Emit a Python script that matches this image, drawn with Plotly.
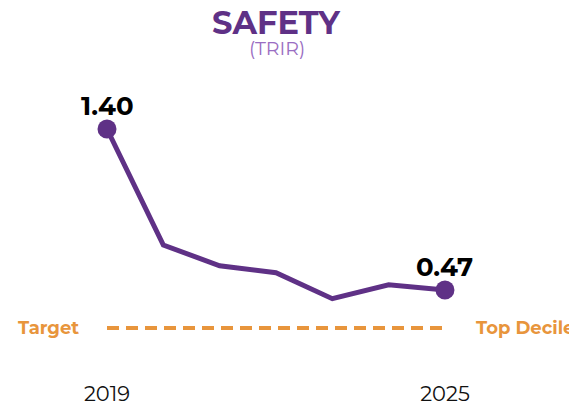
import plotly.graph_objects as go

years = [2019, 2020, 2021, 2022, 2023, 2024, 2025]
trir = [1.40, 0.73, 0.61, 0.57, 0.42, 0.50, 0.47]
target_value = 0.25
tick_years = [2019, 2025]
tick_labels = ["2019", "2025"]
title_text = "SAFETY"
subtitle_text = "(TRIR)"
left_label = "Target"
right_label = "Top Decile"

PURPLE = "#5F3186"
LIGHT_PURPLE = "#9A6DC2"
ORANGE = "#E8953C"
FONT = "Montserrat, Lato, 'Open Sans', sans-serif"

fig = go.Figure()

# Target dashed line
fig.add_trace(go.Scatter(
    x=[years[0], years[-1]], y=[target_value, target_value],
    mode="lines", line=dict(color=ORANGE, width=4, dash="12px,7px"),
    hoverinfo="skip", showlegend=False))

# Main line
fig.add_trace(go.Scatter(
    x=years, y=trir, mode="lines",
    line=dict(color=PURPLE, width=5),
    showlegend=False))

# End markers
fig.add_trace(go.Scatter(
    x=[years[0], years[-1]], y=[trir[0], trir[-1]], mode="markers",
    marker=dict(color=PURPLE, size=19),
    showlegend=False))

# Value labels at endpoints
for xi, yi in ((years[0], trir[0]), (years[-1], trir[-1])):
    fig.add_annotation(x=xi, y=yi, xref="x", yref="y",
                       text=f"<b>{yi:.2f}</b>", showarrow=False,
                       yanchor="bottom", yshift=5,
                       font=dict(family=FONT, size=26, color="#000000"))

fig.add_annotation(x=years[0], y=target_value, xref="x", yref="y",
                   text=f"<b>{left_label}</b>", showarrow=False,
                   xanchor="center", xshift=-59,
                   font=dict(family=FONT, size=18, color=ORANGE))
fig.add_annotation(x=years[-1], y=target_value, xref="x", yref="y",
                   text=f"<b>{right_label}</b>", showarrow=False,
                   xanchor="left", xshift=29,
                   font=dict(family=FONT, size=18, color=ORANGE))

fig.add_annotation(x=0.466, y=1, xref="paper", yref="paper", yanchor="top",
                   yshift=7,
                   text=f"<b>{title_text}</b>", showarrow=False,
                   font=dict(family=FONT, size=32, color=PURPLE))
fig.add_annotation(x=0.466, y=1, xref="paper", yref="paper", yanchor="top",
                   yshift=-27,
                   text=subtitle_text, showarrow=False,
                   font=dict(family=FONT, size=19, color=LIGHT_PURPLE))

fig.update_layout(
    width=577, height=411,
    margin=dict(l=0, r=0, t=0, b=40),
    paper_bgcolor="white", plot_bgcolor="white",
    xaxis=dict(range=[2017.2425, 2027.486], tickmode="array",
               tickvals=tick_years, ticktext=tick_labels,
               showgrid=False, zeroline=False, showline=False, ticks="",
               tickfont=dict(family=FONT, size=21, color="#111111")),
    yaxis=dict(range=[-0.044, 2.099], visible=False),
)

fig.write_html("out.html")
